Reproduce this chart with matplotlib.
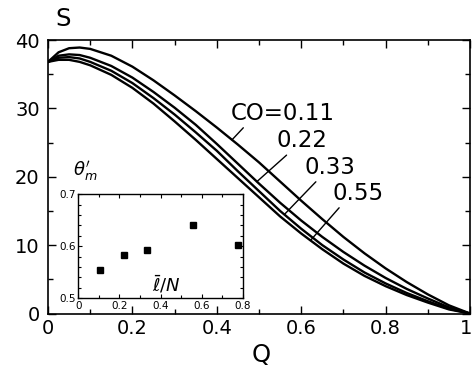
import numpy as np
import matplotlib
matplotlib.use("Agg")
import matplotlib.pyplot as plt
import matplotlib.transforms as mtrans
from matplotlib.ticker import MultipleLocator

# main panel: S vs Q for several CO values
Q = [0, 0.025, 0.05, 0.075, 0.1, 0.15, 0.2, 0.25, 0.3, 0.35, 0.4, 0.45,
     0.5, 0.55, 0.6, 0.65, 0.7, 0.75, 0.8, 0.85, 0.9, 0.95, 1.0]
S_011 = [36.8, 38.2, 38.8, 38.9, 38.7, 37.7, 36.1, 34.1, 31.9, 29.6, 27.2, 24.7,
         22.1, 19.3, 16.5, 13.8, 11.2, 8.8, 6.6, 4.6, 2.8, 1.2, 0.0]
S_022 = [36.8, 37.7, 37.9, 37.8, 37.4, 36.2, 34.5, 32.4, 30.1, 27.6, 24.8, 21.9,
         19.0, 16.2, 13.6, 11.2, 9.0, 7.0, 5.2, 3.6, 2.2, 0.9, 0.0]
S_033 = [36.8, 37.4, 37.5, 37.3, 36.8, 35.5, 33.7, 31.5, 29.1, 26.5, 23.8, 20.8,
         17.9, 15.0, 12.4, 10.0, 7.9, 6.0, 4.4, 3.0, 1.8, 0.7, 0.0]
S_055 = [36.8, 37.1, 37.1, 36.8, 36.3, 34.9, 33.0, 30.7, 28.1, 25.4, 22.6, 19.8,
         17.0, 14.2, 11.7, 9.4, 7.3, 5.5, 4.0, 2.7, 1.6, 0.6, 0.0]
curves = [S_011, S_022, S_033, S_055]
labels = ["CO=0.11", "0.22", "0.33", "0.55"]

# inset: theta'_m vs l/N
lN = [0.105, 0.222, 0.333, 0.557, 0.779]
theta_m = [0.554, 0.583, 0.592, 0.640, 0.603]

fig = plt.figure(figsize=(4.72, 3.66), dpi=100)
ax = fig.add_axes([0.1017, 0.1434, 0.8941, 0.7473])

for s in curves:
    ax.plot(Q, s, color="black", lw=1.7)

ax.set_xlim(0, 1)
ax.set_ylim(0, 40)
ax.xaxis.set_major_locator(MultipleLocator(0.2))
ax.xaxis.set_minor_locator(MultipleLocator(0.1))
ax.yaxis.set_major_locator(MultipleLocator(10))
ax.yaxis.set_minor_locator(MultipleLocator(5))
ax.xaxis.set_major_formatter(plt.FuncFormatter(lambda v, p: f"{v:g}"))
ax.tick_params(which="both", direction="in", top=True, right=True,
               labelsize=14, width=1.0)
ax.tick_params(which="major", length=6)
ax.tick_params(which="minor", length=3.5)
ax.tick_params(axis="y", pad=6)
ax.tick_params(axis="x", pad=4)
for sp in ax.spines.values():
    sp.set_linewidth(1.2)

# the "1" sits right at the figure edge, nudge it in a little
fig.canvas.draw()
for t in ax.xaxis.get_major_ticks():
    if abs(t.get_loc() - 1.0) < 1e-9:
        t.label1.set_horizontalalignment("right")
        t.label1.set_transform(t.label1.get_transform() +
                               mtrans.ScaledTranslation(2 / 100, 0, fig.dpi_scale_trans))

ax.text(0.036, 1.077, "S", transform=ax.transAxes, fontsize=17.5,
        ha="center", va="center")
ax.text(0.505, -0.152, "Q", transform=ax.transAxes, fontsize=17.5,
        ha="center", va="center")

# curve labels with leader lines
label_pos = [(0.432, 28.3), (0.5425, 24.3), (0.6085, 20.4), (0.675, 16.6)]
leader_q = [0.436, 0.495, 0.56, 0.622]
rel = [0.15, 0.25, 0.27, 0.17]
for s, lab, pos, q, r in zip(curves, labels, label_pos, leader_q, rel):
    ax.annotate(lab, xy=(q, np.interp(q, Q, s)), xytext=pos,
                fontsize=16.5, ha="left", va="baseline",
                arrowprops=dict(arrowstyle="-", color="black", lw=1.0,
                                shrinkA=0, shrinkB=0, relpos=(r, 0)))

# inset
axi = fig.add_axes([0.1659, 0.185, 0.3483, 0.2842])
axi.plot(lN, theta_m, "s", color="black", markersize=4.5)
axi.set_xlim(0, 0.8)
axi.set_ylim(0.5, 0.7)
axi.xaxis.set_major_locator(MultipleLocator(0.2))
axi.xaxis.set_minor_locator(MultipleLocator(0.1))
axi.yaxis.set_major_locator(MultipleLocator(0.1))
axi.yaxis.set_minor_locator(MultipleLocator(0.02))
axi.xaxis.set_major_formatter(plt.FuncFormatter(lambda v, p: f"{v:g}"))
axi.tick_params(which="both", direction="in", top=True, right=True,
                labelsize=7.5, width=0.8, pad=2)
axi.tick_params(which="major", length=3)
axi.tick_params(which="minor", length=2)
for sp in axi.spines.values():
    sp.set_linewidth(1.0)
axi.text(0.536, 0.13, r"$\bar{\ell}/N$", transform=axi.transAxes,
         fontsize=13, ha="center", va="center")
axi.text(-0.03, 1.22, r"$\theta_m'$", transform=axi.transAxes,
         fontsize=13, ha="left", va="center")

fig.savefig("out.png", dpi=100)
